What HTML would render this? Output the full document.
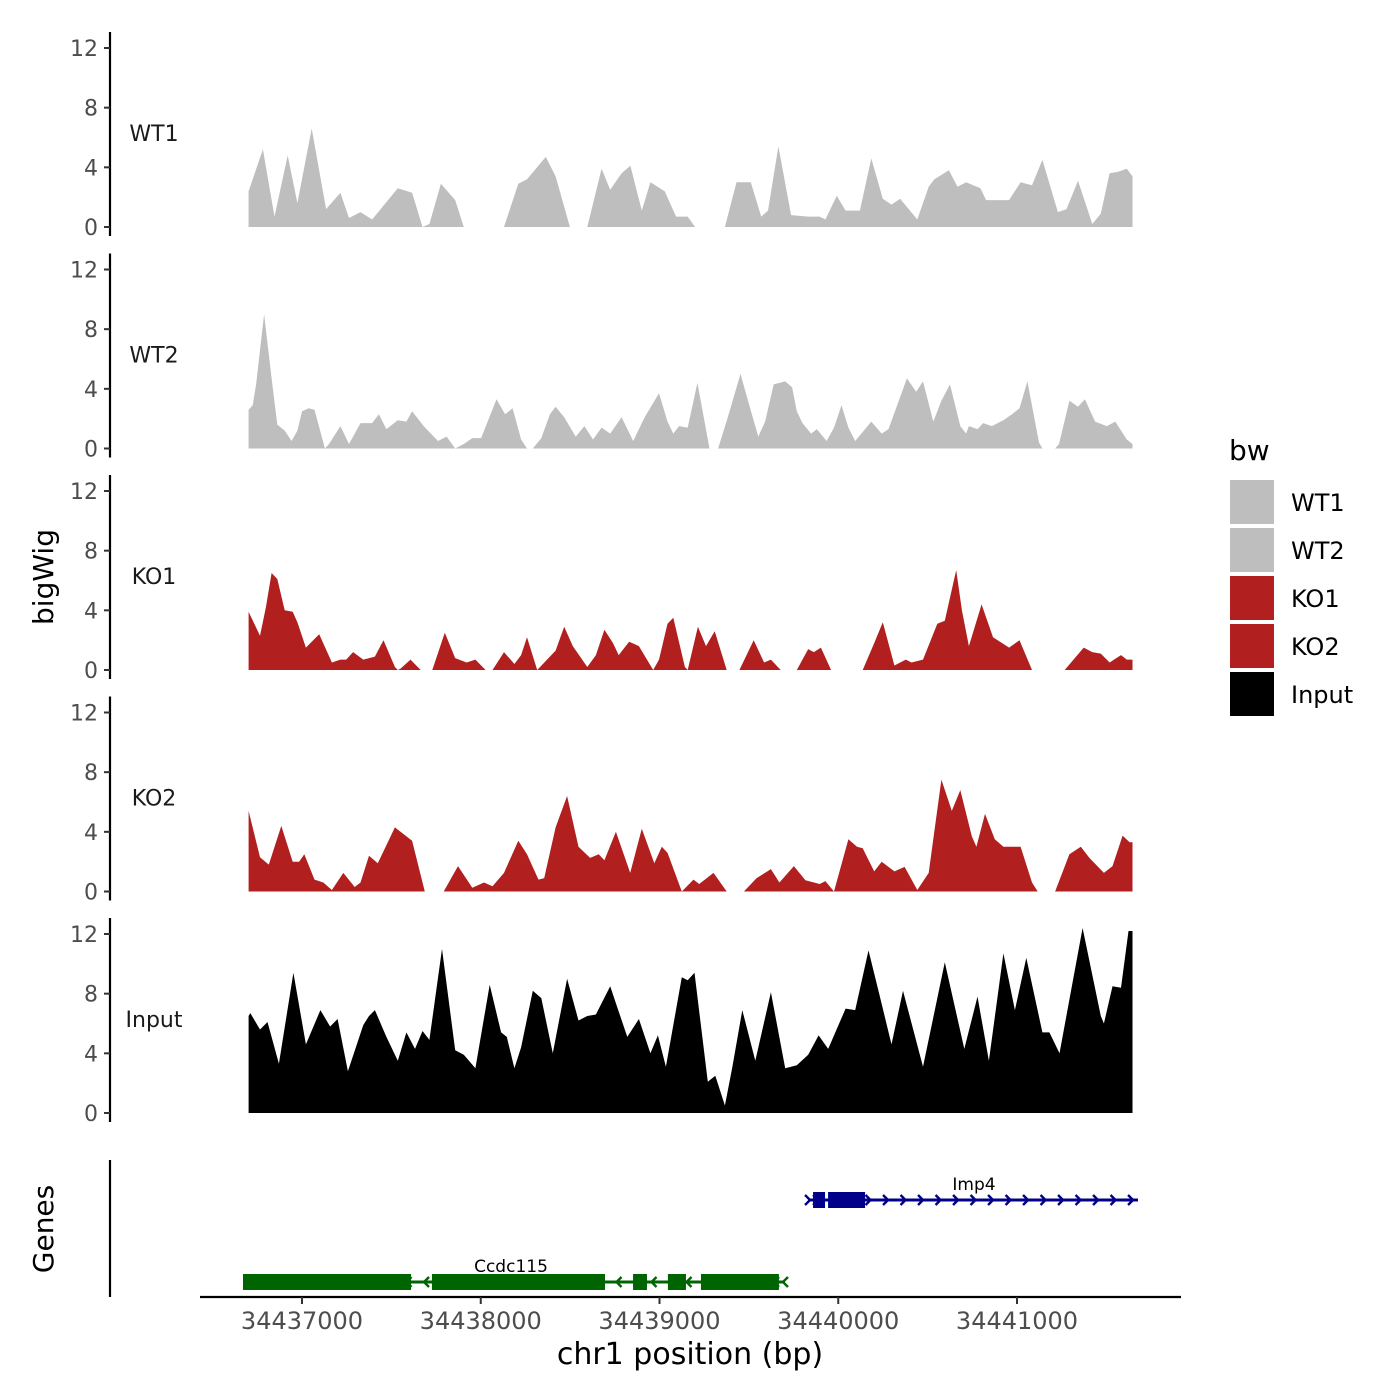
<!DOCTYPE html>
<html><head><meta charset="utf-8"><style>
html,body{margin:0;padding:0;background:#fff;}
svg{display:block;font-family:"DejaVu Sans","Liberation Sans",sans-serif;}
</style></head><body>
<svg id="chart" width="1400" height="1400" viewBox="0 0 1400 1400"></svg>
<script>
const regionStart = 34436000;
const trackNames = ["WT1","WT2","KO1","KO2","Input"];
const trackColors = ["#bebebe","#bebebe","#b21f1f","#b21f1f","#000000"];
const yTicks = [0,4,8,12];
const xTicks = [34437000,34438000,34439000,34440000,34441000];
const legendLabels = ["WT1","WT2","KO1","KO2","Input"];
// [bp offset from regionStart, coverage]
const wt1 = [[701,2.4],[781,5.2],[846,0.7],[920,4.8],[974,1.6],[1054,6.6],[1135,1.2],[1215,2.3],[1263,0.6],[1327,1.0],[1392,0.5],[1536,2.6],[1616,2.3],[1674,0],[1713,0.2],[1777,2.9],[1857,1.8],[1905,0],[2130,0],[2210,2.9],[2259,3.2],[2364,4.7],[2419,3.4],[2499,0],[2596,0],[2676,3.9],[2724,2.5],[2788,3.6],[2837,4.1],[2901,1.1],[2949,3.0],[3029,2.4],[3093,0.7],[3158,0.7],[3199,0],[3366,0],[3431,3.0],[3511,3.0],[3569,0.7],[3607,1.1],[3665,5.4],[3736,0.8],[3832,0.7],[3896,0.7],[3928,0.5],[3992,2.1],[4041,1.1],[4121,1.1],[4185,4.6],[4249,1.9],[4298,1.5],[4346,1.9],[4442,0.5],[4506,2.7],[4538,3.2],[4619,3.8],[4667,2.7],[4715,3.0],[4795,2.6],[4827,1.8],[4956,1.8],[5020,3.0],[5084,2.8],[5142,4.5],[5229,1.0],[5277,1.2],[5341,3.1],[5421,0.2],[5469,0.9],[5518,3.6],[5566,3.7],[5614,3.9],[5646,3.4]];
const wt2 = [[701,2.6],[724,2.9],[743,4.3],[788,9.0],[830,4.7],[862,1.6],[903,1.2],[942,0.5],[974,1.2],[1000,2.5],[1038,2.7],[1070,2.6],[1128,0],[1151,0.3],[1215,1.5],[1263,0.3],[1327,1.7],[1392,1.7],[1430,2.3],[1472,1.3],[1536,1.9],[1584,1.8],[1616,2.5],[1681,1.5],[1761,0.5],[1809,0.8],[1857,0],[1905,0.3],[1953,0.7],[2002,0.7],[2088,3.3],[2136,2.3],[2178,2.7],[2226,0.6],[2259,0],[2291,0],[2339,0.7],[2387,2.3],[2419,2.8],[2467,2.1],[2531,0.8],[2580,1.5],[2628,0.6],[2676,1.4],[2724,1.0],[2788,2.1],[2853,0.5],[2917,2.1],[2997,3.7],[3045,1.8],[3077,1.0],[3109,1.5],[3158,1.4],[3212,4.4],[3280,0],[3328,0],[3382,2.1],[3453,5.0],[3495,3.2],[3553,0.8],[3591,1.8],[3639,4.3],[3703,4.5],[3742,4.1],[3768,2.5],[3800,1.7],[3848,1.0],[3880,1.3],[3935,0.5],[3976,1.4],[4018,2.9],[4057,1.4],[4095,0.5],[4185,1.8],[4243,1.0],[4281,1.3],[4384,4.7],[4436,3.8],[4474,4.5],[4532,1.8],[4577,3.2],[4625,4.3],[4683,1.5],[4715,1.0],[4731,1.5],[4779,1.3],[4811,1.7],[4859,1.5],[4924,1.9],[4972,2.3],[5014,2.7],[5058,4.5],[5123,0.4],[5142,0],[5213,0],[5235,0.3],[5293,3.2],[5341,2.8],[5380,3.3],[5437,1.8],[5502,1.5],[5550,1.8],[5614,0.6],[5646,0.3]];
const ko1 = [[701,3.9],[765,2.3],[798,4.2],[830,6.5],[862,6.1],[903,4.0],[948,3.9],[974,3.2],[1022,1.5],[1096,2.4],[1167,0.5],[1215,0.7],[1247,0.7],[1286,1.2],[1343,0.7],[1408,0.9],[1456,2.0],[1520,0.2],[1536,0],[1552,0.1],[1607,0.7],[1664,0],[1729,0],[1799,2.5],[1857,0.8],[1921,0.5],[1970,0.7],[2027,0],[2066,0],[2130,1.2],[2188,0.4],[2226,1.0],[2259,2.2],[2316,0],[2387,0.9],[2419,1.3],[2467,2.9],[2515,1.6],[2596,0.2],[2644,1.0],[2692,2.7],[2740,1.8],[2772,1.0],[2830,1.9],[2885,1.6],[2965,0],[2997,0.7],[3045,3.1],[3077,3.5],[3142,0.2],[3158,0],[3215,2.9],[3260,1.6],[3309,2.6],[3376,0],[3447,0],[3527,2.0],[3585,0.5],[3623,0.7],[3678,0],[3768,0],[3832,1.4],[3864,1.2],[3903,1.5],[3960,0],[4137,0],[4201,1.8],[4249,3.2],[4314,0.3],[4378,0.7],[4410,0.5],[4474,0.7],[4554,3.1],[4596,3.3],[4660,6.7],[4692,4.0],[4731,1.6],[4802,4.4],[4866,2.2],[4956,1.5],[5014,2.0],[5084,0],[5267,0],[5373,1.5],[5421,1.2],[5469,1.1],[5518,0.5],[5582,1.0],[5614,0.7],[5646,0.7]];
const ko2 = [[701,5.4],[765,2.3],[814,1.8],[884,4.4],[948,2.0],[984,2.0],[1013,2.5],[1070,0.8],[1119,0.6],[1167,0.1],[1231,1.25],[1295,0.3],[1327,0.6],[1375,2.4],[1424,1.9],[1520,4.3],[1616,3.4],[1687,0],[1793,0],[1873,1.7],[1953,0.25],[2018,0.6],[2066,0.35],[2130,1.25],[2210,3.4],[2259,2.5],[2323,0.8],[2355,0.9],[2419,4.3],[2483,6.4],[2547,3.0],[2612,2.25],[2660,2.5],[2692,2.1],[2756,4.0],[2836,1.25],[2901,4.2],[2971,1.9],[3013,3.0],[3045,2.6],[3125,0],[3190,0.8],[3222,0.5],[3302,1.25],[3376,0],[3472,0],[3543,0.9],[3623,1.5],[3671,0.6],[3752,1.7],[3816,0.75],[3896,0.5],[3928,0.7],[3976,0],[4057,3.5],[4105,3.0],[4137,2.9],[4201,1.35],[4243,2.0],[4314,1.35],[4371,1.65],[4442,0.1],[4506,1.25],[4577,7.5],[4635,5.4],[4683,6.8],[4747,3.7],[4773,3.0],[4821,5.2],[4876,3.5],[4924,3.0],[5020,3.0],[5084,0.6],[5116,0],[5213,0],[5293,2.5],[5357,3.0],[5405,2.25],[5486,1.25],[5534,1.7],[5591,3.75],[5630,3.3],[5646,3.3]];
const input = [[701,6.5],[711,6.7],[765,5.6],[807,6.1],[871,3.3],[952,9.4],[1022,4.6],[1103,6.9],[1157,5.8],[1199,6.3],[1257,2.8],[1343,5.9],[1375,6.5],[1408,6.9],[1472,5.1],[1536,3.5],[1584,5.4],[1632,4.3],[1674,5.5],[1713,4.9],[1783,11.0],[1857,4.2],[1905,3.9],[1970,3.0],[2050,8.6],[2114,5.4],[2146,5.1],[2188,3.0],[2226,4.4],[2291,8.2],[2339,7.7],[2403,4.0],[2483,9.0],[2547,6.2],[2596,6.5],[2644,6.6],[2724,8.5],[2766,7.0],[2820,5.1],[2885,6.3],[2949,4.0],[2991,5.2],[3036,3.1],[3125,9.1],[3158,8.9],[3196,9.4],[3270,2.1],[3312,2.5],[3366,0.5],[3408,3.1],[3463,6.9],[3536,3.5],[3623,8.1],[3703,3.0],[3768,3.2],[3832,3.9],[3890,5.2],[3944,4.3],[4041,7.0],[4095,6.9],[4169,10.9],[4233,7.8],[4298,4.6],[4362,8.2],[4474,3.1],[4596,10.1],[4705,4.3],[4779,7.8],[4843,3.5],[4924,10.7],[4988,6.9],[5052,10.4],[5142,5.4],[5181,5.4],[5238,4.0],[5367,12.4],[5469,6.5],[5486,6.0],[5534,8.5],[5582,8.4],[5624,12.2],[5646,12.2]];
const trackData = [wt1, wt2, ko1, ko2, input];
// genes: [start offset, end offset]
const imp4Span = [3831,5677];
const imp4Exons = [[3859,3926],[3943,4150]];
const ccdcSpan = [670,3702];
const ccdcExons = [[670,1610],[1727,2695],[2852,2930],[3047,3148],[3232,3668]];

const NS="http://www.w3.org/2000/svg";
const svg=document.getElementById('chart');
function mk(tag,attrs,parent){const e=document.createElementNS(NS,tag);for(const k in attrs)e.setAttribute(k,attrs[k]);(parent||svg).appendChild(e);return e;}
function xScale(bp){return 302+(bp-34437000)*0.17875;}
function xOff(off){return xScale(regionStart+off);}
const panelStep=221.5, y0Base=227, pxPerUnit=14.917;
function yScale(k,v){return y0Base+k*panelStep-v*pxPerUnit;}

trackData.forEach((d,k)=>{
  const g=mk('g',{});
  
  
  const base=yScale(k,0);
  let p='M'+xOff(d[0][0]).toFixed(1)+','+base;
  d.forEach(pt=>{p+=' L'+xOff(pt[0]).toFixed(1)+','+yScale(k,pt[1]).toFixed(1);});
  p+=' L'+xOff(d[d.length-1][0]).toFixed(1)+','+base+' Z';
  const a=mk('path',{d:p,fill:trackColors[k]},g);
  
  
  const ax=mk('line',{x1:110,x2:110,y1:yScale(k,12)-16,y2:base+9,stroke:'#000','stroke-width':2.2},g);
  
  
  yTicks.forEach(t=>{
    const y=yScale(k,t);
    mk('line',{x1:104,x2:110,y1:y,y2:y,stroke:'#333','stroke-width':2},g);
    const tl=mk('text',{x:98,y:y+8,'text-anchor':'end','font-size':22,fill:'#4d4d4d'},g);
    tl.textContent=t;
    
    
  });
  const lab=mk('text',{x:154,y:yScale(k,6.3)+8,'text-anchor':'middle','font-size':22,fill:'#1a1a1a'},g);
  lab.textContent=trackNames[k];
  
  
});

const yt=mk('text',{x:0,y:0,transform:'translate(53,577) rotate(-90)','text-anchor':'middle','font-size':28,fill:'#000'});
yt.textContent='bigWig';


const gt=mk('text',{x:0,y:0,transform:'translate(53,1229) rotate(-90)','text-anchor':'middle','font-size':28,fill:'#000'});
gt.textContent='Genes';



const gax=mk('line',{x1:110,x2:110,y1:1160,y2:1297,stroke:'#000','stroke-width':2.2});


const xax=mk('line',{x1:200,x2:1181,y1:1297,y2:1297,stroke:'#000','stroke-width':2.2});


xTicks.forEach(t=>{
  const x=xScale(t);
  mk('line',{x1:x,x2:x,y1:1297,y2:1304,stroke:'#333','stroke-width':2});
  const tl=mk('text',{x:x,y:1329,'text-anchor':'middle','font-size':24,fill:'#4d4d4d'});
  tl.textContent=t;
  
  
});
const xt=mk('text',{x:690,y:1364,'text-anchor':'middle','font-size':30,fill:'#000'});
xt.textContent='chr1 position (bp)';



function drawGene(name,span,exons,y,color,dir,labelX){
  const g=mk('g',{});
  
  
  const x1=xOff(span[0]),x2=xOff(span[1]);
  mk('line',{x1:x1,x2:x2,y1:y,y2:y,stroke:color,'stroke-width':3},g);
  for(let x=x1+8;x<x2;x+=17.5){
    const pts=dir>0?`${x-3},${y-5} ${x+2},${y} ${x-3},${y+5}`:`${x+3},${y-5} ${x-2},${y} ${x+3},${y+5}`;
    mk('polyline',{points:pts,fill:'none',stroke:color,'stroke-width':2.4},g);
  }
  const ex=dir>0?x1:x2;
  const pe=dir>0?`${ex-3},${y-5} ${ex+2},${y} ${ex-3},${y+5}`:`${ex+3},${y-5} ${ex-2},${y} ${ex+3},${y+5}`;
  mk('polyline',{points:pe,fill:'none',stroke:color,'stroke-width':2.4},g);
  exons.forEach(e=>{
    const r=mk('rect',{x:xOff(e[0]),y:y-8,width:xOff(e[1])-xOff(e[0]),height:16,fill:color},g);
    
    
  });
  const t=mk('text',{x:labelX,y:y-10,'text-anchor':'middle','font-size':17,fill:'#000'},g);
  t.textContent=name;
  
  
}
drawGene('Imp4',imp4Span,imp4Exons,1200,'#00008b',1,974);
drawGene('Ccdc115',ccdcSpan,ccdcExons,1282,'#006400',-1,511);

const lg=mk('g',{});


const lt=mk('text',{x:1229,y:460,'font-size':28,fill:'#000'},lg);
lt.textContent='bw';


legendLabels.forEach((l,i)=>{
  const y=480+i*48;
  const r=mk('rect',{x:1230,y:y,width:44,height:44,fill:trackColors[i]},lg);
  
  
  const t=mk('text',{x:1291,y:y+31,'font-size':24,fill:'#000'},lg);
  t.textContent=l;
  
  
});
</script>
</body></html>
